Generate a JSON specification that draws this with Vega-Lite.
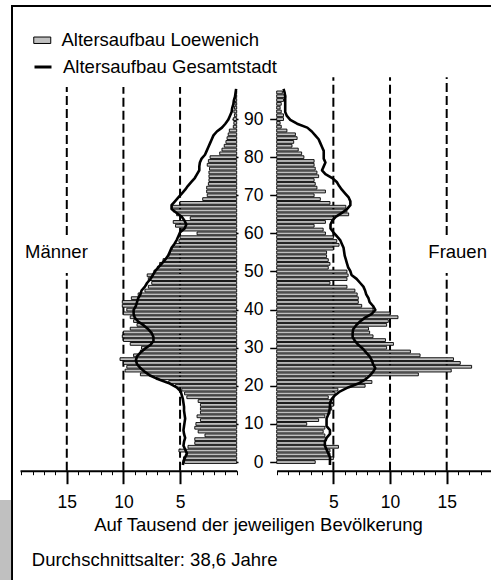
{
"$schema": "https://vega.github.io/schema/vega-lite/v6.json",
"width": 481, "height": 576,
"autosize": {"type": "none"},
"padding": {"left": 12, "top": 6, "right": -2, "bottom": -2},
"config": {
  "font": "Liberation Sans",
  "view": {"stroke": "black", "strokeWidth": 2},
  "axis": {"domainColor": "black", "tickColor": "black", "labelColor": "black", "titleColor": "black", "grid": false, "labelFont": "Liberation Sans", "titleFont": "Liberation Sans"},
  "legend": {"labelFont": "Liberation Sans", "labelColor": "black", "padding": 0, "labelLimit": 400},
  "text": {"font": "Liberation Sans", "fontSize": 18.5, "color": "black"}
},
"data": {"values": [
{"a":0,"m":4.6,"w":3.4,"gm":4.75,"gw":4.7},
{"a":1,"m":4.7,"w":5.0,"gm":4.7,"gw":4.7},
{"a":2,"m":4.4,"w":4.7,"gm":4.55,"gw":4.7},
{"a":3,"m":5.1,"w":4.7,"gm":4.4,"gw":4.55},
{"a":4,"m":4.3,"w":5.45,"gm":4.55,"gw":4.4},
{"a":5,"m":3.7,"w":4.25,"gm":4.7,"gw":4.25},
{"a":6,"m":3.7,"w":4.4,"gm":4.65,"gw":4.25},
{"a":7,"m":2.8,"w":4.25,"gm":4.55,"gw":4.4},
{"a":8,"m":3.4,"w":4.1,"gm":4.65,"gw":4.7},
{"a":9,"m":3.7,"w":4.25,"gm":4.7,"gw":4.7},
{"a":10,"m":3.6,"w":2.65,"gm":4.65,"gw":4.4},
{"a":11,"m":3.2,"w":3.7,"gm":4.6,"gw":4.4},
{"a":12,"m":3.5,"w":4.25,"gm":4.55,"gw":4.4},
{"a":13,"m":3.2,"w":4.7,"gm":4.6,"gw":4.55},
{"a":14,"m":3.2,"w":4.85,"gm":4.65,"gw":4.65},
{"a":15,"m":3.2,"w":5.0,"gm":4.65,"gw":4.7},
{"a":16,"m":3.4,"w":5.0,"gm":4.7,"gw":4.7},
{"a":17,"m":4.4,"w":4.55,"gm":4.75,"gw":4.85},
{"a":18,"m":4.6,"w":5.15,"gm":4.85,"gw":5.15},
{"a":19,"m":4.85,"w":5.4,"gm":4.95,"gw":5.6},
{"a":20,"m":5.4,"w":7.8,"gm":5.3,"gw":6.3},
{"a":21,"m":6.0,"w":8.4,"gm":5.9,"gw":7.2},
{"a":22,"m":7.1,"w":7.9,"gm":6.8,"gw":7.8},
{"a":23,"m":8.5,"w":12.5,"gm":7.6,"gw":8.2},
{"a":24,"m":9.85,"w":15.4,"gm":8.1,"gw":8.5},
{"a":25,"m":9.7,"w":17.2,"gm":8.5,"gw":8.7},
{"a":26,"m":10.0,"w":16.2,"gm":8.8,"gw":8.5},
{"a":27,"m":10.3,"w":15.6,"gm":8.9,"gw":8.4},
{"a":28,"m":9.1,"w":12.65,"gm":8.8,"gw":8.2},
{"a":29,"m":8.5,"w":11.8,"gm":8.5,"gw":7.9},
{"a":30,"m":8.4,"w":9.7,"gm":8.1,"gw":7.6},
{"a":31,"m":9.4,"w":10.3,"gm":7.6,"gw":7.2},
{"a":32,"m":10.0,"w":9.6,"gm":7.35,"gw":6.9},
{"a":33,"m":10.1,"w":8.5,"gm":7.35,"gw":6.7},
{"a":34,"m":10.0,"w":8.2,"gm":7.5,"gw":6.7},
{"a":35,"m":9.4,"w":8.1,"gm":7.8,"gw":6.75},
{"a":36,"m":8.8,"w":9.7,"gm":8.2,"gw":7.0},
{"a":37,"m":9.1,"w":9.85,"gm":8.7,"gw":7.35},
{"a":38,"m":9.4,"w":10.7,"gm":9.0,"gw":7.8},
{"a":39,"m":10.0,"w":10.0,"gm":9.1,"gw":8.4},
{"a":40,"m":9.7,"w":8.5,"gm":9.1,"gw":8.7},
{"a":41,"m":10.1,"w":7.5,"gm":8.9,"gw":8.5},
{"a":42,"m":10.1,"w":7.2,"gm":8.8,"gw":8.2},
{"a":43,"m":9.3,"w":7.2,"gm":8.7,"gw":8.1},
{"a":44,"m":8.7,"w":7.1,"gm":8.5,"gw":7.9},
{"a":45,"m":8.1,"w":6.9,"gm":8.4,"gw":7.8},
{"a":46,"m":7.8,"w":6.2,"gm":8.1,"gw":7.65},
{"a":47,"m":7.5,"w":4.7,"gm":7.9,"gw":7.35},
{"a":48,"m":7.8,"w":6.2,"gm":7.6,"gw":7.05},
{"a":49,"m":7.9,"w":6.3,"gm":7.4,"gw":6.6},
{"a":50,"m":7.3,"w":6.2,"gm":7.2,"gw":6.5},
{"a":51,"m":7.0,"w":4.55,"gm":6.9,"gw":6.3},
{"a":52,"m":6.8,"w":4.7,"gm":6.6,"gw":6.2},
{"a":53,"m":6.5,"w":4.55,"gm":6.3,"gw":6.1},
{"a":54,"m":6.0,"w":4.4,"gm":6.05,"gw":6.0},
{"a":55,"m":5.9,"w":4.4,"gm":5.9,"gw":5.95},
{"a":56,"m":5.7,"w":5.0,"gm":5.75,"gw":5.9},
{"a":57,"m":5.5,"w":5.5,"gm":5.5,"gw":5.75},
{"a":58,"m":5.1,"w":5.3,"gm":5.3,"gw":5.6},
{"a":59,"m":5.0,"w":5.0,"gm":5.15,"gw":5.3},
{"a":60,"m":3.5,"w":4.3,"gm":5.0,"gw":5.0},
{"a":61,"m":4.9,"w":4.1,"gm":4.6,"gw":4.75},
{"a":62,"m":5.4,"w":3.3,"gm":4.45,"gw":4.75},
{"a":63,"m":5.6,"w":4.3,"gm":4.6,"gw":4.9},
{"a":64,"m":4.1,"w":5.0,"gm":4.85,"gw":5.2},
{"a":65,"m":5.3,"w":6.35,"gm":5.3,"gw":5.75},
{"a":66,"m":5.6,"w":6.2,"gm":5.75,"gw":6.2},
{"a":67,"m":5.7,"w":6.1,"gm":5.75,"gw":6.5},
{"a":68,"m":5.0,"w":4.7,"gm":5.45,"gw":6.5},
{"a":69,"m":3.0,"w":3.85,"gm":5.15,"gw":6.35},
{"a":70,"m":2.6,"w":3.3,"gm":4.85,"gw":6.05},
{"a":71,"m":2.65,"w":4.3,"gm":4.55,"gw":5.75},
{"a":72,"m":2.65,"w":3.55,"gm":4.3,"gw":5.5},
{"a":73,"m":2.5,"w":3.4,"gm":4.0,"gw":5.3},
{"a":74,"m":2.45,"w":3.3,"gm":3.7,"gw":4.9},
{"a":75,"m":2.45,"w":3.7,"gm":3.5,"gw":4.3},
{"a":76,"m":2.45,"w":3.55,"gm":3.3,"gw":4.0},
{"a":77,"m":2.4,"w":3.4,"gm":3.3,"gw":4.15},
{"a":78,"m":2.6,"w":3.3,"gm":3.25,"gw":4.3},
{"a":79,"m":2.5,"w":3.3,"gm":3.1,"gw":4.15},
{"a":80,"m":2.35,"w":2.4,"gm":2.8,"gw":4.15},
{"a":81,"m":1.5,"w":2.2,"gm":2.65,"gw":4.15},
{"a":82,"m":1.3,"w":1.9,"gm":2.5,"gw":4.0},
{"a":83,"m":1.1,"w":1.35,"gm":2.35,"gw":3.85},
{"a":84,"m":0.95,"w":1.5,"gm":2.2,"gw":3.7},
{"a":85,"m":0.85,"w":1.8,"gm":2.05,"gw":3.4},
{"a":86,"m":0.75,"w":1.65,"gm":1.75,"gw":3.1},
{"a":87,"m":0.65,"w":0.9,"gm":1.3,"gw":2.7},
{"a":88,"m":0.3,"w":0.4,"gm":1.0,"gw":1.8},
{"a":89,"m":0.25,"w":0.3,"gm":0.75,"gw":1.2},
{"a":90,"m":0.3,"w":0.6,"gm":0.6,"gw":0.9},
{"a":91,"m":0.2,"w":0.6,"gm":0.45,"gw":0.75},
{"a":92,"m":0.25,"w":0.4,"gm":0.4,"gw":0.75},
{"a":93,"m":0.2,"w":0.3,"gm":0.3,"gw":0.75},
{"a":94,"m":0.15,"w":0.4,"gm":0.25,"gw":0.75},
{"a":95,"m":0.2,"w":0.6,"gm":0.15,"gw":0.75},
{"a":96,"m":0.1,"w":0.8,"gm":0.1,"gw":0.7},
{"a":97,"m":0.1,"w":0.5,"gm":0.05,"gw":0.6}
]},
"resolve": {"scale": {"x": "independent", "y": "independent"}, "axis": {"x": "independent", "y": "independent"}},
"layer": [
 {
  "layer": [
   {"data": {"values": [{"g": 5}, {"g": 10}]},
    "mark": {"type": "rule", "strokeDash": [9, 4], "strokeWidth": 2, "color": "black"},
    "encoding": {
      "x": {"field": "g", "type": "quantitative", "scale": {"domain": [0, 19.13], "range": [224.7, 8], "nice": false}, "axis": null},
      "y": {"datum": -1.47, "type": "quantitative", "scale": {"domain": [-30.17, 118.36], "nice": false, "zero": false}, "axis": null},
      "y2": {"datum": 97.5}}},
   {"data": {"values": [{"g": 15}]},
    "mark": {"type": "rule", "strokeDash": [9, 4], "strokeWidth": 2, "color": "black"},
    "encoding": {
      "x": {"field": "g", "type": "quantitative", "scale": {"domain": [0, 19.13], "range": [224.7, 8], "nice": false}, "axis": null},
      "y": {"datum": -1.47, "type": "quantitative", "scale": {"domain": [-30.17, 118.36], "nice": false, "zero": false}, "axis": null},
      "y2": {"datum": 49.5}}},
   {"data": {"values": [{"g": 15}]},
    "mark": {"type": "rule", "strokeDash": [9, 4], "strokeWidth": 2, "color": "black"},
    "encoding": {
      "x": {"field": "g", "type": "quantitative", "scale": {"domain": [0, 19.13], "range": [224.7, 8], "nice": false}, "axis": null},
      "y": {"datum": 59.3, "type": "quantitative", "scale": {"domain": [-30.17, 118.36], "nice": false, "zero": false}, "axis": null},
      "y2": {"datum": 97.5}}}
  ]
 },
 {
  "layer": [
   {"data": {"values": [{"g": 5}, {"g": 10}]},
    "mark": {"type": "rule", "strokeDash": [9, 4], "strokeWidth": 2, "color": "black"},
    "encoding": {
      "x": {"field": "g", "type": "quantitative", "scale": {"domain": [0, 18.91], "range": [264.7, 479], "nice": false}, "axis": null},
      "y": {"datum": -1.47, "type": "quantitative", "scale": {"domain": [-30.17, 118.36], "nice": false, "zero": false}, "axis": null},
      "y2": {"datum": 100}}},
   {"data": {"values": [{"g": 15}]},
    "mark": {"type": "rule", "strokeDash": [9, 4], "strokeWidth": 2, "color": "black"},
    "encoding": {
      "x": {"field": "g", "type": "quantitative", "scale": {"domain": [0, 18.91], "range": [264.7, 479], "nice": false}, "axis": null},
      "y": {"datum": -1.47, "type": "quantitative", "scale": {"domain": [-30.17, 118.36], "nice": false, "zero": false}, "axis": null},
      "y2": {"datum": 49.5}}},
   {"data": {"values": [{"g": 15}]},
    "mark": {"type": "rule", "strokeDash": [9, 4], "strokeWidth": 2, "color": "black"},
    "encoding": {
      "x": {"field": "g", "type": "quantitative", "scale": {"domain": [0, 18.91], "range": [264.7, 479], "nice": false}, "axis": null},
      "y": {"datum": 59.3, "type": "quantitative", "scale": {"domain": [-30.17, 118.36], "nice": false, "zero": false}, "axis": null},
      "y2": {"datum": 100}}}
  ]
 },
 {
  "encoding": {
    "x": {"field": "m", "type": "quantitative", "scale": {"domain": [0, 19.13], "range": [224.7, 8], "nice": false},
      "axis": {"orient": "bottom", "offset": -111.3, "title": null,
        "values": [0,1,2,3,4,5,6,7,8,9,10,11,12,13,14,15,16,17,18,19],
        "labelExpr": "datum.value % 5 === 0 && datum.value > 0 ? datum.label : ''",
        "tickSize": {"condition": {"test": "datum.value % 5 === 0 && datum.value > 0", "value": 13}, "value": 4},
        "tickWidth": {"condition": {"test": "datum.value % 5 === 0 && datum.value > 0", "value": 2}, "value": 1},
        "domainWidth": 2, "labelFontSize": 17.5, "labelBaseline": "alphabetic", "labelPadding": 23.6,
        "labelFlush": false, "labelOverlap": false, "grid": false}},
    "y": {"field": "a", "type": "quantitative", "scale": {"domain": [-30.17, 118.36], "nice": false, "zero": false},
      "axis": {"orient": "right", "offset": -261, "values": [0,10,20,30,40,50,60,70,80,90], "labels": false, "domain": false, "tickSize": 6, "tickWidth": 1.5, "title": null, "grid": false}}
  },
  "layer": [
   {"mark": {"type": "bar", "orient": "horizontal", "height": 2.8, "stroke": "black", "strokeWidth": 0.9},
    "encoding": {
      "fill": {"datum": "Altersaufbau Loewenich", "type": "nominal", "scale": {"range": ["#c0c0c0"]},
        "legend": {"title": null, "orient": "none", "legendX": 21, "legendY": 25, "symbolType": "M-1,-0.38H1V0.38H-1Z", "symbolSize": 289, "symbolStrokeColor": "black", "symbolStrokeWidth": 1, "labelFontSize": 18.5, "labelOffset": 10}}}}
  ]
 },
 {
  "encoding": {
    "x": {"field": "w", "type": "quantitative", "scale": {"domain": [0, 18.91], "range": [264.7, 479], "nice": false},
      "axis": {"orient": "bottom", "offset": -111.3,
        "title": "Auf Tausend der jeweiligen Bevölkerung", "titleFontSize": 18.5, "titleFontWeight": "normal",
        "titleX": 246, "titleY": 59.3, "titleBaseline": "alphabetic", "titleAlign": "center",
        "values": [0,1,2,3,4,5,6,7,8,9,10,11,12,13,14,15,16,17,18],
        "labelExpr": "datum.value % 5 === 0 && datum.value > 0 ? datum.label : ''",
        "tickSize": {"condition": {"test": "datum.value % 5 === 0 && datum.value > 0", "value": 13}, "value": 4},
        "tickWidth": {"condition": {"test": "datum.value % 5 === 0 && datum.value > 0", "value": 2}, "value": 1},
        "domainWidth": 2, "labelFontSize": 17.5, "labelBaseline": "alphabetic", "labelPadding": 23.6,
        "labelFlush": false, "labelOverlap": false, "grid": false}},
    "y": {"field": "a", "type": "quantitative", "scale": {"domain": [-30.17, 118.36], "nice": false, "zero": false},
      "axis": {"orient": "left", "offset": -264.7, "values": [0,10,20,30,40,50,60,70,80,90], "domain": false, "tickSize": 7, "tickWidth": 1.5, "labelPadding": 6.7, "labelFontSize": 17.5, "title": null, "grid": false}}
  },
  "layer": [
   {"mark": {"type": "bar", "orient": "horizontal", "height": 2.8, "stroke": "black", "strokeWidth": 0.9, "fill": "#c0c0c0"}}
  ]
 },
 {
  "layer": [
   {"mark": {"type": "line", "strokeWidth": 2.6, "strokeJoin": "round"},
    "encoding": {
      "x": {"field": "gm", "type": "quantitative", "scale": {"domain": [0, 19.13], "range": [224.7, 8], "nice": false}, "axis": null},
      "y": {"field": "a", "type": "quantitative", "scale": {"domain": [-30.17, 118.36], "nice": false, "zero": false}, "axis": null},
      "order": {"field": "a", "type": "quantitative"},
      "stroke": {"datum": "Altersaufbau Gesamtstadt", "type": "nominal", "scale": {"range": ["black"]},
        "legend": {"title": null, "orient": "none", "legendX": 21, "legendY": 51, "symbolType": "stroke", "symbolSize": 289, "symbolStrokeWidth": 3, "labelFontSize": 18.5, "labelOffset": 10}}}},
   {"data": {"values": [{"t": "Männer"}]},
    "mark": {"type": "text", "align": "left", "baseline": "alphabetic", "fontSize": 18.5},
    "encoding": {
      "x": {"datum": 18.68, "type": "quantitative", "scale": {"domain": [0, 19.13], "range": [224.7, 8], "nice": false}, "axis": null},
      "y": {"datum": 53.3, "type": "quantitative", "scale": {"domain": [-30.17, 118.36], "nice": false, "zero": false}, "axis": null},
      "text": {"field": "t"}}},
   {"data": {"values": [{"t": "Durchschnittsalter: 38,6 Jahre"}]},
    "mark": {"type": "text", "align": "left", "baseline": "alphabetic", "fontSize": 18.5},
    "encoding": {
      "x": {"datum": 18.09, "type": "quantitative", "scale": {"domain": [0, 19.13], "range": [224.7, 8], "nice": false}, "axis": null},
      "y": {"datum": -26.17, "type": "quantitative", "scale": {"domain": [-30.17, 118.36], "nice": false, "zero": false}, "axis": null},
      "text": {"field": "t"}}},
   {"data": {"values": [{"t": "block"}]},
    "mark": {"type": "rect", "fill": "#c0c0c0"},
    "encoding": {
      "x": {"datum": 20.9, "type": "quantitative", "scale": {"domain": [0, 19.13], "range": [224.7, 8], "nice": false}, "axis": null},
      "x2": {"datum": 19.92},
      "y": {"datum": -9.03, "type": "quantitative", "scale": {"domain": [-30.17, 118.36], "nice": false, "zero": false}, "axis": null},
      "y2": {"datum": -30.17}}}
  ]
 },
 {
  "layer": [
   {"mark": {"type": "line", "strokeWidth": 2.6, "strokeJoin": "round", "color": "black"},
    "encoding": {
      "x": {"field": "gw", "type": "quantitative", "scale": {"domain": [0, 18.91], "range": [264.7, 479], "nice": false}, "axis": null},
      "y": {"field": "a", "type": "quantitative", "scale": {"domain": [-30.17, 118.36], "nice": false, "zero": false}, "axis": null},
      "order": {"field": "a", "type": "quantitative"}}},
   {"data": {"values": [{"t": "Frauen"}]},
    "mark": {"type": "text", "align": "left", "baseline": "alphabetic", "fontSize": 18.5},
    "encoding": {
      "x": {"datum": 13.38, "type": "quantitative", "scale": {"domain": [0, 18.91], "range": [264.7, 479], "nice": false}, "axis": null},
      "y": {"datum": 53.3, "type": "quantitative", "scale": {"domain": [-30.17, 118.36], "nice": false, "zero": false}, "axis": null},
      "text": {"field": "t"}}}
  ]
 }
]
}
